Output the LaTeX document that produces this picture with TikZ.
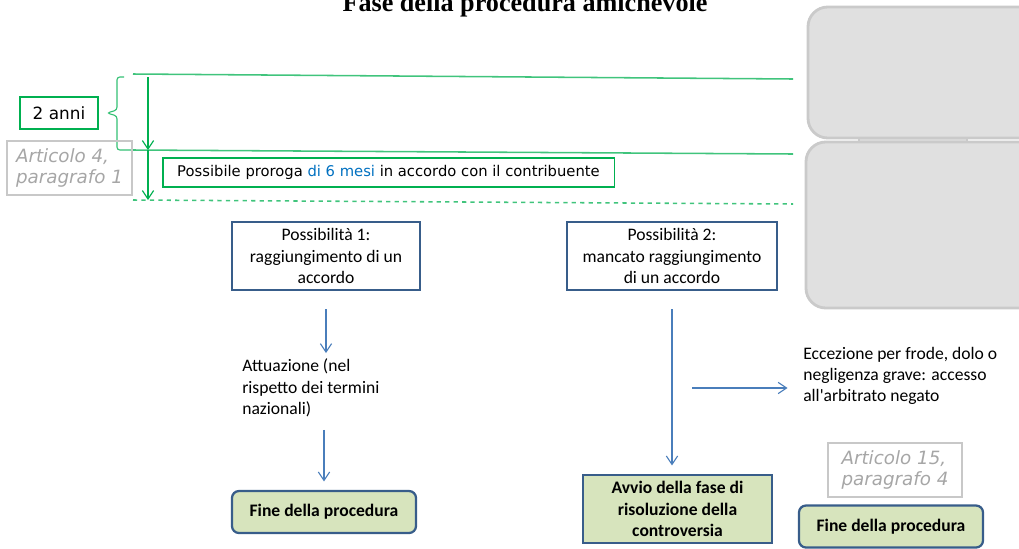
\documentclass[tikz,border=0pt]{standalone}
\usepackage{fontspec}
\setmainfont{Carlito}[Ligatures=TeXOff]
\newfontfamily\vfont{DejaVu Sans}
\newfontfamily\tfont{Liberation Serif}
\usetikzlibrary{arrows.meta}
\definecolor{mygreen}{RGB}{0,176,80}
\definecolor{myblue}{RGB}{74,126,187}
\definecolor{myframe}{RGB}{56,93,138}
\definecolor{myfill}{RGB}{215,228,189}
\definecolor{mygray}{RGB}{166,166,166}
\definecolor{mygrayline}{RGB}{200,200,200}
\definecolor{mytextblue}{RGB}{0,112,192}
\definecolor{boxgray}{RGB}{224,224,224}
\definecolor{boxline}{RGB}{202,202,202}
\newcommand{\boxfont}{\fontsize{12.5}{15.2}\selectfont}

\begin{document}
\begin{tikzpicture}[x=0.025cm,y=-0.025cm,
  choice/.style={draw=myframe, line width=1.6pt, align=center, font=\boxfont, inner sep=0pt},
  outcome/.style={choice, fill=myfill, font=\boxfont\bfseries},
  greenbox/.style={draw=mygreen, line width=0.8pt, inner sep=0pt},
  refbox/.style={draw=mygrayline, line width=0.8pt, align=left, inner sep=0pt,
    text=mygray, font=\vfont\itshape\fontsize{13}{15.2}\selectfont},
  plain/.style={align=left, font=\boxfont, inner xsep=0pt, inner ysep=4pt},
  barrow/.style={draw=myblue, line width=0.8pt, -{Straight Barb[length=6pt,width=8pt]}},
  garrow/.style={draw=mygreen, line width=0.8pt, -{Straight Barb[length=6pt,width=8pt]}},
  gline/.style={draw=mygreen!75, line width=1.1pt}]
  \clip (0,0) rectangle (1019,548);

  % Title (cut at the top)
  \node[anchor=base, font=\tfont\bfseries\fontsize{18.6}{20}\selectfont] (title) at (525,11.5) {Fase della procedura amichevole};

  % Grey panels on the right
  \fill[boxgray, draw=boxline, line width=1pt] (859,136) rectangle (967,144);
  \draw[fill=boxgray, draw=boxline, line width=2pt, rounded corners=14pt] (808,7) rectangle (1040,138);
  \draw[fill=boxgray, draw=boxline, line width=2pt, rounded corners=14pt] (806,142) rectangle (1040,308);

  % Time lines
  \coordinate (l1a) at (133,74);  \coordinate (l1b) at (793,79);
  \coordinate (l2a) at (133,150); \coordinate (l2b) at (793,154);
  \coordinate (l3a) at (133,200); \coordinate (l3b) at (793,204);
  \draw[gline] (l1a) -- (l1b);
  \draw[gline] (l2a) -- (l2b);
  \draw[gline, dashed] (l3a) -- (l3b);

  \coordinate (g0) at (148,77);
  \coordinate (g1) at (148,150);
  \coordinate (g2) at (148,200);
  \draw[garrow] (g0) -- (g1);
  \draw[garrow] (g1) -- (g2);

  % Brace
  \draw[draw=mygreen!80, line width=0.8pt, rounded corners=2pt]
    (124,77) -- (117,77) -- (117,110) -- (107,113) -- (117,116) -- (117,150) -- (133,150);

  \node[greenbox, minimum width=1.95cm, minimum height=0.8cm, font=\vfont\fontsize{12}{14}\selectfont] (anni) at (59,113) {2 anni};
  \node[refbox, minimum width=3.125cm, minimum height=1.35cm] (art4) at (69.5,168) {Articolo 4,\\paragrafo 1};
  \node[greenbox, minimum width=11.275cm, minimum height=0.725cm, font=\vfont\fontsize{10.5}{12.5}\selectfont] (proroga) at (388.5,172.5)
    {Possibile proroga \textcolor{mytextblue}{di 6 mesi} in accordo con il contribuente};

  % Two possibilities
  \node[choice, minimum width=4.7cm, minimum height=1.7cm] (poss1) at (326,256) {Possibilità 1:\\raggiungimento di un\\accordo};
  \node[choice, minimum width=5.25cm, minimum height=1.7cm] (poss2) at (672,256) {Possibilità 2:\\mancato raggiungimento\\di un accordo};

  \node[plain, anchor=west] (attua) at (242,388) {Attuazione (nel\\rispetto dei termini\\nazionali)};
  \node[plain, anchor=west] (eccez) at (803,376) {Eccezione per frode, dolo o\\negligenza grave: accesso\\all'arbitrato negato};

  \node[outcome, rounded corners=5pt, minimum width=4.6cm, minimum height=1.05cm] (fine1) at (324,512) {Fine della procedura};
  \node[outcome, minimum width=4.725cm, minimum height=1.7cm] (avvio) at (677.5,509) {Avvio della fase di\\risoluzione della\\controversia};
  \node[refbox, minimum width=3.35cm, minimum height=1.35cm] (art15) at (895,470) {Articolo 15,\\paragrafo 4};
  \node[outcome, rounded corners=5pt, minimum width=4.6cm, minimum height=1.05cm] (fine2) at (891,526.5) {Fine della procedura};

  % Arrows
  \draw[barrow, shorten <=12.8pt] (poss1.south) -- (poss1.south |- attua.north);
  \draw[barrow, shorten <=5pt, shorten >=6pt] (attua.south -| fine1.north) -- (fine1.north);
  \draw[barrow, shorten <=12.8pt, shorten >=6pt] (poss2.south) -- (poss2.south |- avvio.north);
  \coordinate (split) at (692,388);
  \draw[barrow, shorten >=11pt] (split) -- (split -| eccez.west);
\end{tikzpicture}
\end{document}
